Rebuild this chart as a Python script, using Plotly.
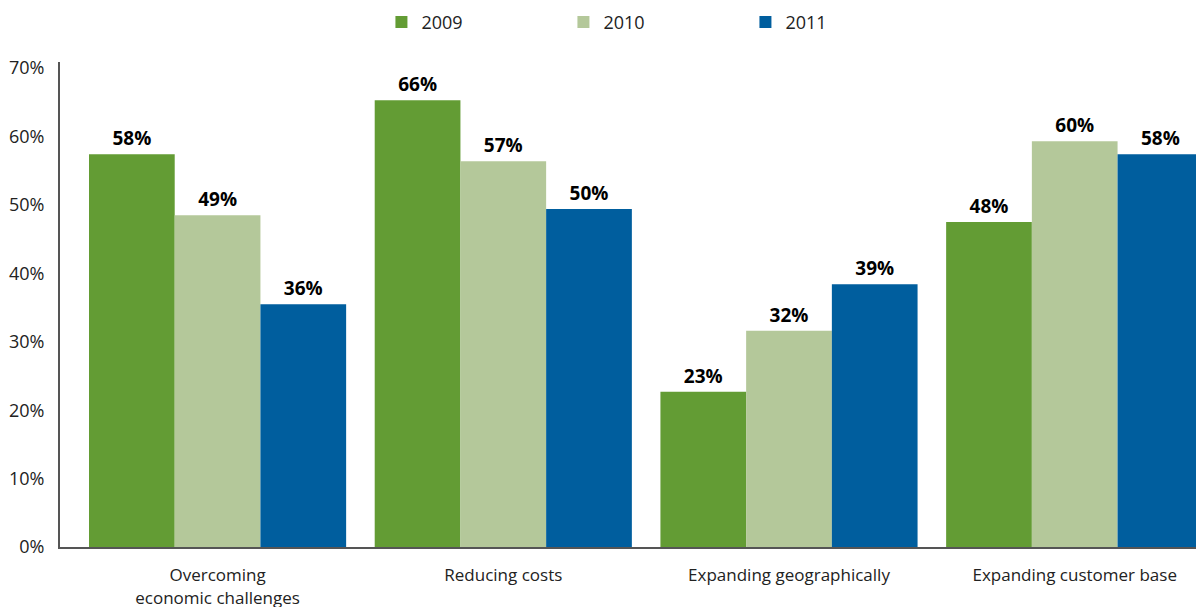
import plotly.graph_objects as go

categories = ["Overcoming<br>economic challenges", "Reducing costs",
              "Expanding geographically", "Expanding customer base"]
years = ["2009", "2010", "2011"]
values_2009 = [57.4, 65.3, 22.7, 47.5]
values_2010 = [48.5, 56.4, 31.6, 59.3]
values_2011 = [35.5, 49.4, 38.4, 57.4]
labels_2009 = ["58%", "66%", "23%", "48%"]
labels_2010 = ["49%", "57%", "32%", "60%"]
labels_2011 = ["36%", "50%", "39%", "58%"]

colors = ["#639c34", "#b4c89a", "#005e9e"]
series = [values_2009, values_2010, values_2011]
labels = [labels_2009, labels_2010, labels_2011]

fig = go.Figure()
for year, vals, txt, col in zip(years, series, labels, colors):
    fig.add_trace(go.Bar(
        name=year, x=categories, y=vals, text=txt,
        textposition="outside", cliponaxis=False,
        textfont=dict(family="Open Sans", size=19, color="#000000", weight="bold"),
        marker=dict(color=col, line_width=0),
    ))

# page body has an 8px margin, so the margins are shifted to compensate
fig.update_layout(
    width=1204, height=607,
    margin=dict(l=52, r=0, t=54, b=68, autoexpand=False),
    paper_bgcolor="white", plot_bgcolor="white",
    barmode="group", bargap=0.1, bargroupgap=0,
    font=dict(family="Open Sans", size=17, color="#222222"),
    legend=dict(orientation="h", x=0.516, xanchor="center", y=1.082, yanchor="middle",
                entrywidth=137, font=dict(size=18, color="#222222"), traceorder="normal"),
    xaxis=dict(showline=True, linecolor="#555555", linewidth=2, ticks="",
               tickfont=dict(size=17), showgrid=False, automargin=False,
               ticklabelstandoff=12, range=[-0.5515, 3.4805]),
    yaxis=dict(range=[0, 70.9], tickvals=[0, 10, 20, 30, 40, 50, 60, 70],
               ticktext=["0%", "10%", "20%", "30%", "40%", "50%", "60%", "70%"],
               showline=True, linecolor="#555555", linewidth=2, showgrid=False,
               zeroline=False, ticks="", ticklabelstandoff=10, automargin=False,
               tickfont=dict(size=18)),
)

fig.write_html("out.html")
